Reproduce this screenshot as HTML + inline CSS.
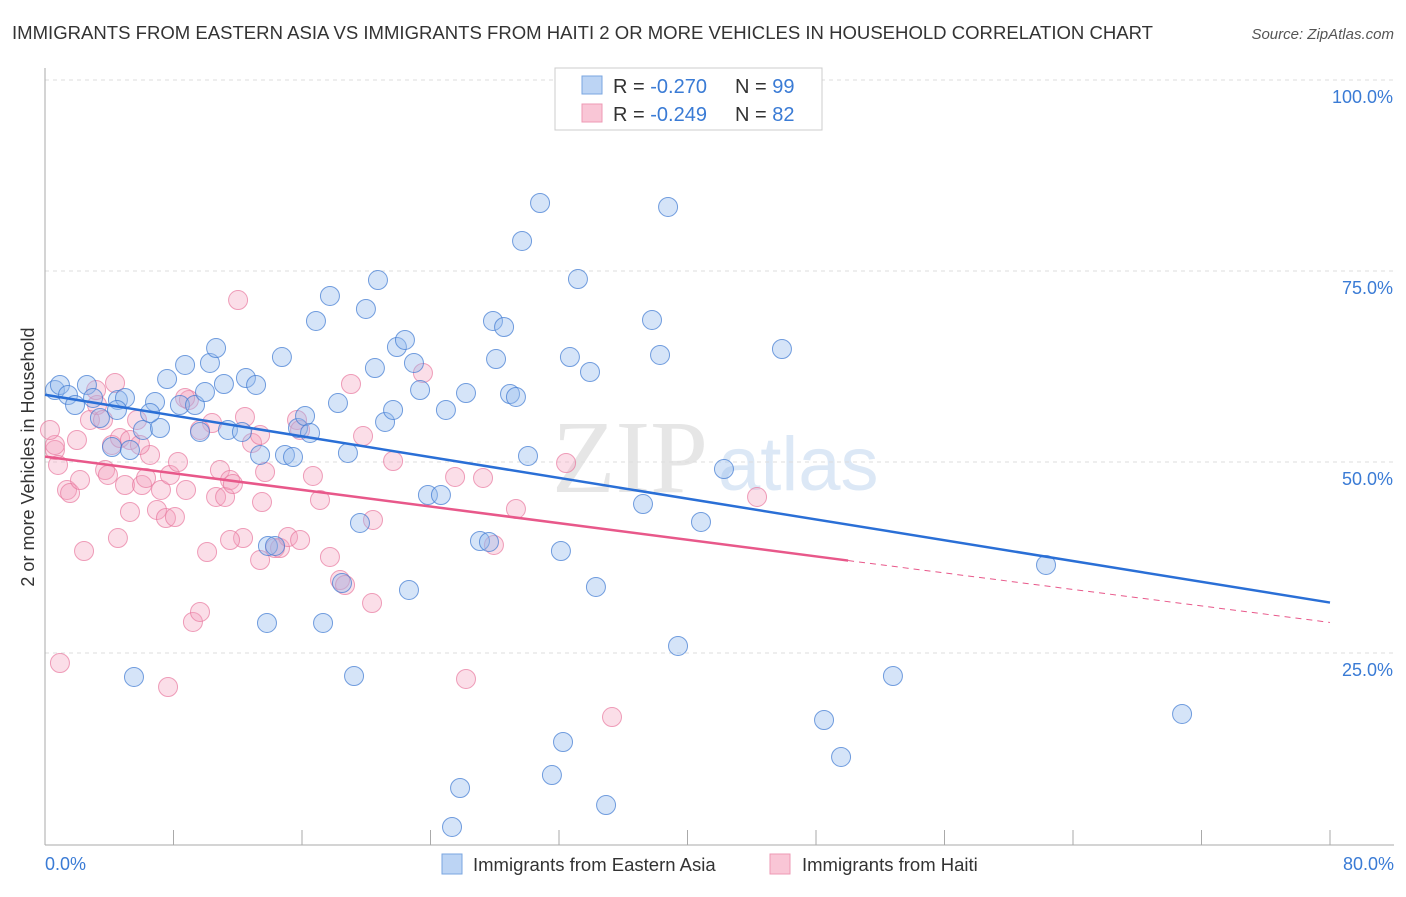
<!DOCTYPE html>
<html><head><meta charset="utf-8"><style>
body{margin:0;background:#fff;font-family:"Liberation Sans",sans-serif;}
</style></head><body>
<svg id="c" width="1406" height="892" style="font-family:'Liberation Sans',sans-serif">
<text x="12" y="39" font-size="18" fill="#333" textLength="1141" lengthAdjust="spacingAndGlyphs">IMMIGRANTS FROM EASTERN ASIA VS IMMIGRANTS FROM HAITI 2 OR MORE VEHICLES IN HOUSEHOLD CORRELATION CHART</text>
<text x="1394" y="39" font-size="15" fill="#555" font-style="italic" text-anchor="end">Source: ZipAtlas.com</text>
<text x="552" y="492" font-size="104" fill="#e6e6e6" font-family="Liberation Serif">ZIP</text>
<text x="718" y="490" font-size="76" fill="#dce8f6">atlas</text>
<g id="grid"></g><g id="pts"></g><g id="lines"></g>
<text transform="translate(34,457) rotate(-90)" font-size="18" fill="#333" text-anchor="middle">2 or more Vehicles in Household</text>
<text x="45" y="870" font-size="18" fill="#3a7bd5">0.0%</text>
<text x="1394" y="870" font-size="18" fill="#3a7bd5" text-anchor="end">80.0%</text>
<g>
<rect x="555" y="68" width="267" height="62" fill="#fff" stroke="#ccc"/>
<rect x="582" y="76" width="20" height="18" fill="#bcd4f4" stroke="#7aa6e0"/>
<rect x="582" y="104" width="20" height="18" fill="#f9c6d6" stroke="#ee99b4"/>
<text x="613" y="93" font-size="20" fill="#333">R = <tspan fill="#3a7bd5">-0.270</tspan></text>
<text x="735" y="93" font-size="20" fill="#333">N = <tspan fill="#3a7bd5">99</tspan></text>
<text x="613" y="121" font-size="20" fill="#333">R = <tspan fill="#3a7bd5">-0.249</tspan></text>
<text x="735" y="121" font-size="20" fill="#333">N = <tspan fill="#3a7bd5">82</tspan></text>
</g>
<g>
<rect x="442" y="854" width="20" height="20" fill="#bcd4f4" stroke="#7aa6e0"/>
<text x="473" y="871" font-size="18.5" fill="#333">Immigrants from Eastern Asia</text>
<rect x="770" y="854" width="20" height="20" fill="#f9c6d6" stroke="#ee99b4"/>
<text x="802" y="871" font-size="18.5" fill="#333">Immigrants from Haiti</text>
</g>
</svg>
<script>
const yTicks=[25,50,75,100];
const yTickLabels=["25.0%","50.0%","75.0%","100.0%"];
const xTicks=[0,8,16,24,32,40,48,56,64,72,80];
const bluePx=[[55,390],[60,385],[68,395],[87,385],[75,405],[93,398],[100,418],[118,400],[125,398],[112,447],[130,450],[143,430],[155,402],[160,428],[150,413],[167,379],[180,405],[185,365],[195,405],[200,432],[205,392],[210,363],[216,348],[224,384],[228,430],[242,432],[246,378],[256,385],[260,455],[268,546],[275,546],[282,357],[285,455],[293,457],[298,428],[305,416],[310,433],[316,321],[330,296],[338,403],[348,453],[360,523],[366,309],[375,368],[378,280],[385,422],[393,410],[397,347],[405,340],[409,590],[414,363],[420,390],[428,495],[441,495],[446,410],[460,788],[452,827],[466,393],[480,541],[489,542],[493,321],[496,359],[504,327],[510,394],[516,397],[522,241],[528,456],[540,203],[552,775],[561,551],[563,742],[570,357],[578,279],[590,372],[596,587],[606,805],[643,504],[652,320],[660,355],[668,207],[678,646],[701,522],[724,469],[782,349],[824,720],[841,757],[893,676],[1046,565],[1182,714],[134,677],[267,623],[323,623],[354,676],[117,410],[738,80],[342,583]];
const pinkPx=[[55,450],[58,465],[55,445],[60,663],[67,490],[70,493],[80,480],[84,551],[77,440],[90,420],[97,405],[103,420],[105,470],[108,475],[115,383],[112,445],[120,438],[125,485],[130,512],[118,538],[137,420],[142,485],[146,478],[150,455],[157,510],[161,490],[166,518],[170,475],[175,517],[178,462],[168,687],[186,490],[189,400],[193,622],[200,612],[207,552],[212,423],[216,497],[220,470],[225,497],[230,480],[233,484],[238,300],[243,538],[245,417],[252,443],[260,435],[262,502],[265,472],[275,548],[280,548],[288,537],[297,420],[300,430],[313,476],[330,557],[340,580],[345,585],[351,384],[363,436],[372,603],[373,520],[393,461],[423,373],[455,477],[466,679],[483,478],[494,545],[516,509],[566,463],[612,717],[757,497],[50,430],[185,398],[130,440],[200,430],[96,390],[140,445],[230,540],[260,560],[320,500],[300,540]];
const xs=v=>45+v/80*1285, ys=v=>844-v/100*764;
const pxToX=p=>(p-45)/1285*80, pxToY=p=>(844-p)/764*100;
const blueData=bluePx.map(p=>[+pxToX(p[0]).toFixed(2),+pxToY(p[1]).toFixed(2)]);
const pinkData=pinkPx.map(p=>[+pxToX(p[0]).toFixed(2),+pxToY(p[1]).toFixed(2)]);
const blueTrend=[[0,58.8],[80,31.6]];
const pinkTrend=[[0,50.7],[50,37.1],[80,29.0]];
const NS="http://www.w3.org/2000/svg";
function mk(t,a,p){const e=document.createElementNS(NS,t);for(const k in a)e.setAttribute(k,a[k]);p.appendChild(e);return e;}
const g=document.getElementById('grid');
yTicks.forEach((t,i)=>{
 const l=mk('line',{x1:45,x2:1394,y1:ys(t),y2:ys(t),stroke:'#ddd','stroke-dasharray':'4,4'},g);
 
 
 const tx=mk('text',{x:1393,y:ys(t)+23,'font-size':18,fill:'#3a7bd5','text-anchor':'end'},g);
 tx.textContent=yTickLabels[i];
 
 
});
const ax=mk('line',{x1:45,x2:45,y1:68,y2:845,stroke:'#aaa'},g);


const bx=mk('line',{x1:45,x2:1394,y1:845,y2:845,stroke:'#aaa'},g);


xTicks.forEach(t=>{const l=mk('line',{x1:xs(t),x2:xs(t),y1:830,y2:845,stroke:'#aaa'},g);
 
 });
const pg=document.getElementById('pts');
pinkData.forEach(d=>{const c=mk('circle',{cx:xs(d[0]),cy:ys(d[1]),r:9.5,fill:'rgba(244,160,188,0.35)',stroke:'rgba(232,120,158,0.7)'},pg);
 
 });
blueData.forEach(d=>{const c=mk('circle',{cx:xs(d[0]),cy:ys(d[1]),r:9.5,fill:'rgba(150,188,238,0.4)',stroke:'rgba(60,120,210,0.7)'},pg);
 
 });
const lg=document.getElementById('lines');
const bl=mk('line',{x1:xs(blueTrend[0][0]),y1:ys(blueTrend[0][1]),x2:xs(blueTrend[1][0]),y2:ys(blueTrend[1][1]),stroke:'#2a6fd6','stroke-width':2.5},lg);


const pl=mk('line',{x1:xs(pinkTrend[0][0]),y1:ys(pinkTrend[0][1]),x2:xs(pinkTrend[1][0]),y2:ys(pinkTrend[1][1]),stroke:'#e8588a','stroke-width':2.5},lg);


const pd=mk('line',{x1:xs(pinkTrend[1][0]),y1:ys(pinkTrend[1][1]),x2:xs(pinkTrend[2][0]),y2:ys(pinkTrend[2][1]),stroke:'#e8588a','stroke-width':1,'stroke-dasharray':'6,5'},lg);


</script>
</body></html>
